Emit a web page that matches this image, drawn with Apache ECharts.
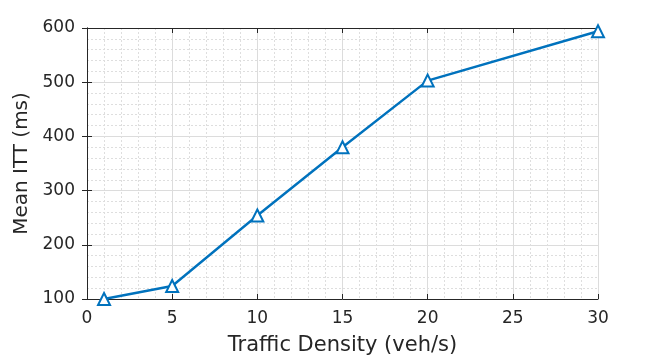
<!DOCTYPE html>
<html>
<head>
<meta charset="utf-8">
<script src="https://cdn.jsdelivr.net/npm/echarts@6/dist/echarts.min.js"></script>
<style>
  html, body { margin: 0; padding: 0; background: #fff; }
  #chart { width: 662px; height: 356px; }
</style>
</head>
<body>
<div id="chart"></div>
<script>
const density = [1, 5, 10, 15, 20, 30];
const meanItt = [100, 124, 254, 380, 503, 594];

const chart = echarts.init(document.getElementById('chart'), null, { renderer: 'canvas' });

const textColor = '#262626';
const font = 'DejaVu Sans';

const baseAxis = {
  axisLine: { show: true, lineStyle: { color: textColor, width: 1 } },
  axisTick: { show: true, inside: true, length: 5, lineStyle: { color: textColor } },
  minorTick: { show: false },
};

const option = {
  animation: false,
  grid: { left: 87, right: 64, top: 28, bottom: 57, containLabel: false, outerBoundsMode: 'none' },
  xAxis: [
    Object.assign({}, baseAxis, {
      type: 'value',
      min: 0, max: 30, interval: 5,
      name: 'Traffic Density (veh/s)',
      nameLocation: 'middle',
      nameGap: 36,
      nameTextStyle: { color: textColor, fontFamily: font, fontSize: 21 },
      axisLabel: { color: textColor, fontFamily: font, fontSize: 17, margin: 11 },
      splitLine: { show: true, lineStyle: { color: '#dcdcdc', width: 1 } },
      minorSplitLine: { show: true, lineStyle: { color: '#dedede', type: [2, 2], width: 1 } },
      minorTick: { show: false, splitNumber: 5 },
    }),
    Object.assign({}, baseAxis, {
      type: 'value', position: 'top',
      min: 0, max: 30, interval: 5,
      axisLabel: { show: false },
      splitLine: { show: false },
    }),
  ],
  yAxis: [
    Object.assign({}, baseAxis, {
      type: 'value',
      min: 100, max: 600, interval: 100,
      name: 'Mean ITT (ms)',
      nameLocation: 'middle',
      nameGap: 51,
      nameTextStyle: { color: textColor, fontFamily: font, fontSize: 20 },
      axisLabel: { color: textColor, fontFamily: font, fontSize: 17, margin: 12 },
      splitLine: { show: true, lineStyle: { color: '#dcdcdc', width: 1 } },
      minorSplitLine: { show: true, lineStyle: { color: '#dedede', type: [2, 2], width: 1 } },
      minorTick: { show: false, splitNumber: 5 },
    }),
    Object.assign({}, baseAxis, {
      type: 'value', position: 'right',
      min: 100, max: 600, interval: 100,
      axisLabel: { show: false },
      splitLine: { show: false },
    }),
  ],
  series: [
    {
      type: 'line',
      data: density.map((d, i) => [d, meanItt[i]]),
      symbol: 'triangle',
      symbolSize: 12,
      lineStyle: { color: '#0072BD', width: 2.4 },
      itemStyle: { color: '#ffffff', borderColor: '#0072BD', borderWidth: 2 },
      z: 5,
    },
  ],
};

chart.setOption(option);
</script>
</body>
</html>
